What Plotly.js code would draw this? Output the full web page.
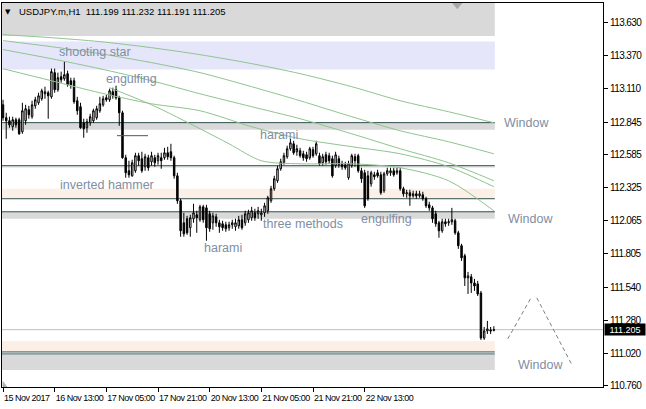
<!DOCTYPE html>
<html>
<head>
<meta charset="utf-8">
<script src="https://cdn.plot.ly/plotly-3.0.1.min.js"></script>
<style>
html,body{margin:0;padding:0;background:#fff;}
#chart{width:646px;height:409px;}
#chart g.xtick text{letter-spacing:-0.5px;}
#chart g.ytick text{letter-spacing:-0.6px;}
</style>
</head>
<body>
<div id="chart"></div>
<script>
// ---- data (USDJPY.m, H1) ----
const symbolHeader = "USDJPY.m,H1\u00a0\u00a0111.199 111.232 111.191 111.205";
const timeTickIdx = [0, 16, 32, 48, 64, 80, 96, 112];
const timeTickText = ["15 Nov 2017", "16 Nov 13:00", "17 Nov 05:00", "17 Nov 21:00", "20 Nov 13:00", "21 Nov 05:00", "21 Nov 21:00", "22 Nov 13:00"];
const priceTicks = [113.630, 113.370, 113.110, 112.845, 112.585, 112.325, 112.065, 111.805, 111.540, 111.280, 111.020, 110.760];

const open = [112.981,112.879,112.855,112.808,112.863,112.863,112.768,112.855,112.942,112.887,112.973,112.997,113.029,113.068,113.076,113.044,113.235,113.100,113.203,113.187,113.227,113.171,113.171,113.013,112.966,112.839,112.800,112.839,112.855,112.879,112.934,112.981,113.037,113.021,113.084,113.100,113.037,112.918,112.563,112.460,112.420,112.460,112.579,112.555,112.492,112.563,112.531,112.563,112.539,112.563,112.563,112.602,112.610,112.563,112.420,112.223,112.049,112.081,112.010,112.081,112.112,112.073,112.175,112.167,112.120,112.049,112.096,112.049,112.041,112.033,112.010,112.033,112.018,112.025,112.073,112.049,112.073,112.089,112.128,112.120,112.112,112.128,112.144,112.223,112.318,112.381,112.476,112.523,112.571,112.634,112.673,112.610,112.618,112.594,112.586,112.563,112.626,112.594,112.579,112.523,112.586,112.579,112.555,112.500,112.555,112.515,112.508,112.405,112.500,112.571,112.579,112.460,112.444,112.420,112.357,112.428,112.444,112.428,112.302,112.436,112.444,112.460,112.444,112.460,112.318,112.278,112.286,112.262,112.278,112.262,112.270,112.239,112.191,112.167,112.120,112.049,111.986,112.057,112.049,112.057,112.065,111.970,111.868,111.788,111.614,111.622,111.574,111.566,111.495,111.139,111.195,111.203,111.199];
const high = [113.021,112.918,112.887,112.887,112.879,112.879,112.997,112.981,112.973,113.013,113.044,113.076,113.108,113.124,113.092,113.267,113.267,113.235,113.243,113.322,113.251,113.195,113.195,113.044,112.997,112.871,112.871,112.910,112.950,112.973,113.044,113.052,113.060,113.108,113.116,113.132,113.052,112.934,112.586,112.539,112.547,112.602,112.602,112.610,112.594,112.586,112.610,112.586,112.602,112.602,112.641,112.649,112.673,112.579,112.444,112.239,112.128,112.104,112.112,112.199,112.144,112.191,112.191,112.191,112.144,112.128,112.120,112.073,112.065,112.057,112.057,112.073,112.081,112.104,112.112,112.144,112.152,112.175,112.160,112.175,112.160,112.207,112.262,112.341,112.420,112.500,112.555,112.602,112.658,112.713,112.697,112.665,112.641,112.618,112.610,112.649,112.649,112.697,112.602,112.594,112.610,112.602,112.579,112.610,112.579,112.539,112.531,112.539,112.594,112.594,112.594,112.484,112.468,112.460,112.460,112.452,112.468,112.452,112.452,112.484,112.484,112.484,112.484,112.484,112.334,112.310,112.310,112.302,112.302,112.302,112.294,112.255,112.215,112.183,112.144,112.065,112.081,112.081,112.081,112.167,112.081,111.986,111.883,111.804,111.661,111.645,111.606,111.590,111.511,111.226,111.274,111.226,111.232];
const low = [112.855,112.713,112.800,112.776,112.800,112.744,112.752,112.823,112.871,112.871,112.950,112.981,113.013,113.029,112.871,113.029,113.076,113.084,113.155,113.171,113.124,113.108,112.989,112.902,112.792,112.721,112.760,112.815,112.839,112.863,112.918,112.966,113.005,113.005,113.029,113.021,112.815,112.555,112.405,112.405,112.413,112.444,112.500,112.444,112.460,112.460,112.500,112.492,112.508,112.476,112.547,112.547,112.539,112.397,112.199,111.939,111.939,111.954,111.939,112.049,111.970,112.057,112.049,111.907,111.978,111.994,112.018,111.970,111.986,111.978,111.986,112.002,111.986,112.002,111.994,112.025,112.049,112.065,112.065,112.081,112.065,112.096,112.120,112.207,112.302,112.365,112.460,112.508,112.555,112.618,112.586,112.579,112.563,112.539,112.531,112.547,112.563,112.579,112.500,112.500,112.508,112.515,112.405,112.484,112.484,112.468,112.468,112.389,112.484,112.492,112.444,112.365,112.167,112.223,112.334,112.389,112.405,112.270,112.286,112.420,112.420,112.413,112.428,112.302,112.255,112.247,112.183,112.247,112.239,112.247,112.223,112.167,112.144,112.049,112.018,111.931,111.970,112.018,112.025,112.033,111.954,111.843,111.748,111.550,111.487,111.495,111.511,111.471,111.124,111.124,111.171,111.171,111.191];
const close = [112.879,112.855,112.823,112.863,112.823,112.752,112.934,112.950,112.902,112.981,113.021,113.052,113.092,113.084,113.052,113.243,113.100,113.195,113.179,113.219,113.139,113.139,113.005,112.934,112.800,112.792,112.847,112.887,112.934,112.950,112.989,113.029,113.021,113.092,113.052,113.037,112.918,112.563,112.444,112.428,112.523,112.579,112.539,112.460,112.571,112.484,112.579,112.523,112.579,112.539,112.602,112.571,112.563,112.420,112.223,111.986,111.962,111.970,112.089,112.128,112.089,112.175,112.073,112.010,112.002,112.104,112.049,112.018,112.010,112.002,112.033,112.049,112.049,112.073,112.010,112.120,112.128,112.144,112.089,112.144,112.128,112.183,112.247,112.318,112.397,112.476,112.531,112.579,112.634,112.681,112.602,112.634,112.579,112.563,112.555,112.634,112.579,112.673,112.515,112.571,112.531,112.539,112.420,112.586,112.508,112.492,112.484,112.515,112.579,112.539,112.460,112.397,112.183,112.239,112.444,112.413,112.420,112.286,112.436,112.460,112.460,112.428,112.460,112.318,112.278,112.286,112.262,112.278,112.262,112.278,112.239,112.183,112.167,112.081,112.041,111.986,112.057,112.041,112.057,112.073,111.970,111.868,111.772,111.614,111.630,111.574,111.550,111.487,111.139,111.195,111.211,111.195,111.205];

// moving averages, sampled at bar indices
const maIdx = [0, 15, 30, 46, 61, 77, 92, 108, 123, 138, 152];
const maA = [113.535,113.511,113.480,113.432,113.377,113.306,113.227,113.124,113.013,112.926,112.839];
const maB = [113.488,113.440,113.385,113.314,113.235,113.124,113.013,112.887,112.776,112.689,112.594];
const maC = [113.417,113.345,113.266,113.171,113.068,112.966,112.871,112.752,112.634,112.523,112.381];
const maD = [113.266,113.171,113.076,112.989,112.934,112.808,112.713,112.650,112.594,112.492,112.334];
const maEIdx = [33, 46, 61, 70, 80, 92, 108, 123, 138, 152];
const maE = [113.116,112.981,112.792,112.673,112.539,112.515,112.515,112.484,112.381,112.144];

// zones (price ranges) and levels
const zoneLow   = [113.525, 113.259, 112.784, 112.484, 112.239, 112.081, 111.037, 110.887];
const zoneHigh  = [113.900, 113.480, 112.840, 112.500, 112.318, 112.136, 111.116, 111.005];
const zoneColor = ['#d9d9d9', '#e6e6fa', '#d9d9d9', '#e4e4e4', '#fbefe6', '#d9d9d9', '#fbefe6', '#d9d9d9'];
const levelPrices = [112.840, 112.500, 112.239, 112.136, 111.029, 111.013];
const zoneEndIdx = 152.3;
const shortLevel = {price: 112.737, from: 35.3, to: 44.9};
const lastPrice = 111.205;

// zigzag sketch on the right
const zigIdx = [156.3, 163.5, null, 165.3, 176.2];
const zigPrice = [111.132, 111.456, null, 111.456, 110.926];

// pattern labels
const labelText = ["shooting star", "engulfing", "harami", "inverted hammer", "three methods", "harami", "engulfing", "Window", "Window", "Window"];
const labelIdx = [28.5, 39.9, 85.4, 32.2, 92.9, 68.1, 118.9, 162.2, 163.5, 166.3];
const labelPrice = [113.401, 113.187, 112.745, 112.349, 112.041, 111.851, 112.081, 112.839, 112.081, 110.926];

// ---- build ----
const idx = open.map((_, i) => i);
const FONT = 'Liberation Sans, Arial, sans-serif';
const maColor = '#8fc48f';

const traces = [];
[[maIdx, maA], [maIdx, maB], [maIdx, maC], [maIdx, maD], [maEIdx, maE]].forEach(([xs, m]) => traces.push({
  type: 'scatter', mode: 'lines', x: xs, y: m,
  line: {color: maColor, width: 1, shape: 'spline', smoothing: 0.8},
  hoverinfo: 'skip', showlegend: false
}));
traces.push({
  type: 'candlestick', x: idx, open: open, high: high, low: low, close: close,
  increasing: {line: {color: '#000', width: 1}, fillcolor: '#fff'},
  decreasing: {line: {color: '#000', width: 1}, fillcolor: '#000'},
  whiskerwidth: 0, hoverinfo: 'skip', showlegend: false
});
traces.push({
  type: 'scatter', mode: 'lines', x: zigIdx, y: zigPrice, connectgaps: false,
  line: {color: '#808080', width: 1, dash: '4px,3px'}, hoverinfo: 'skip', showlegend: false
});

const shapes = [];
zoneLow.forEach((lo, k) => shapes.push({
  type: 'rect', xref: 'x', yref: 'y', x0: -0.31, x1: zoneEndIdx, y0: lo, y1: zoneHigh[k],
  fillcolor: zoneColor[k], line: {width: 0}, layer: 'below'
}));
levelPrices.forEach(p => shapes.push({
  type: 'line', xref: 'x', yref: 'y', x0: -0.31, x1: zoneEndIdx, y0: p, y1: p,
  line: {color: '#2f4f4f', width: 1}, layer: 'below'
}));
shapes.push({type: 'line', xref: 'x', yref: 'y', x0: shortLevel.from, x1: shortLevel.to, y0: shortLevel.price, y1: shortLevel.price,
  line: {color: '#555', width: 1}, layer: 'above'});
shapes.push({type: 'line', xref: 'paper', yref: 'y', x0: 0, x1: 1, y0: lastPrice, y1: lastPrice,
  line: {color: '#c0c0c0', width: 1}, layer: 'below'});
// chart shift marker & corner marker
shapes.push({type: 'path', xref: 'paper', yref: 'paper', path: 'M 0.749 1 L 0.766 1 L 0.7575 0.984 Z',
  fillcolor: '#a8a8a8', line: {width: 0}});
shapes.push({type: 'path', xref: 'paper', yref: 'paper', path: 'M 0.001 0 L 0.001 0.016 L 0.009 0 Z',
  fillcolor: '#b0b0b0', line: {width: 0}});

const annotations = labelText.map((t, k) => ({
  text: t, x: labelIdx[k], y: labelPrice[k], xref: 'x', yref: 'y',
  showarrow: false, xanchor: 'center', yanchor: 'middle',
  font: {family: FONT, size: 12.5, color: '#7f8ea3'}
}));
annotations.push({text: '\u25BC', xref: 'paper', yref: 'paper', x: 0.01, y: 0.977, showarrow: false,
  xanchor: 'center', yanchor: 'middle', font: {family: 'DejaVu Sans', size: 7, color: '#000'}});
annotations.push({text: symbolHeader, xref: 'paper', yref: 'paper', x: 0.025, y: 0.977, showarrow: false,
  xanchor: 'left', yanchor: 'middle', font: {family: FONT, size: 9.5, color: '#000'}});
annotations.push({text: lastPrice.toFixed(3), xref: 'paper', yref: 'y', x: 1, xshift: 1, y: lastPrice,
  showarrow: false, xanchor: 'left', yanchor: 'middle', bgcolor: '#000', width: 40, height: 11,
  borderpad: 0, align: 'center', font: {family: FONT, size: 9, color: '#fff'}});

const layout = {
  width: 646, height: 409,
  margin: {l: 2, r: 43, t: 3, b: 22, pad: 0},
  paper_bgcolor: '#fff', plot_bgcolor: '#fff',
  showlegend: false, boxgap: 0.35, dragmode: false,
  xaxis: {
    range: [-0.31, 185.8], tickmode: 'array', tickvals: timeTickIdx, ticktext: timeTickText,
    ticks: 'outside', ticklen: 4, tickcolor: '#000', ticklabelposition: 'outside right', tickangle: 0,
    ticklabelstandoff: 2,
    tickfont: {family: FONT, size: 9, color: '#000'},
    showline: true, linecolor: '#000', linewidth: 1, mirror: true,
    showgrid: false, zeroline: false, rangeslider: {visible: false}, fixedrange: true
  },
  yaxis: {
    range: [110.752, 113.785], side: 'right', tickmode: 'array', tickvals: priceTicks,
    ticktext: priceTicks.map(v => v.toFixed(3)),
    ticks: 'outside', ticklen: 4, tickcolor: '#000',
    tickfont: {family: FONT, size: 10, color: '#000'},
    showline: true, linecolor: '#000', linewidth: 1, mirror: true,
    showgrid: false, zeroline: false, fixedrange: true
  },
  shapes: shapes, annotations: annotations
};

Plotly.newPlot('chart', traces, layout, {staticPlot: true, displayModeBar: false});
</script>
</body>
</html>
